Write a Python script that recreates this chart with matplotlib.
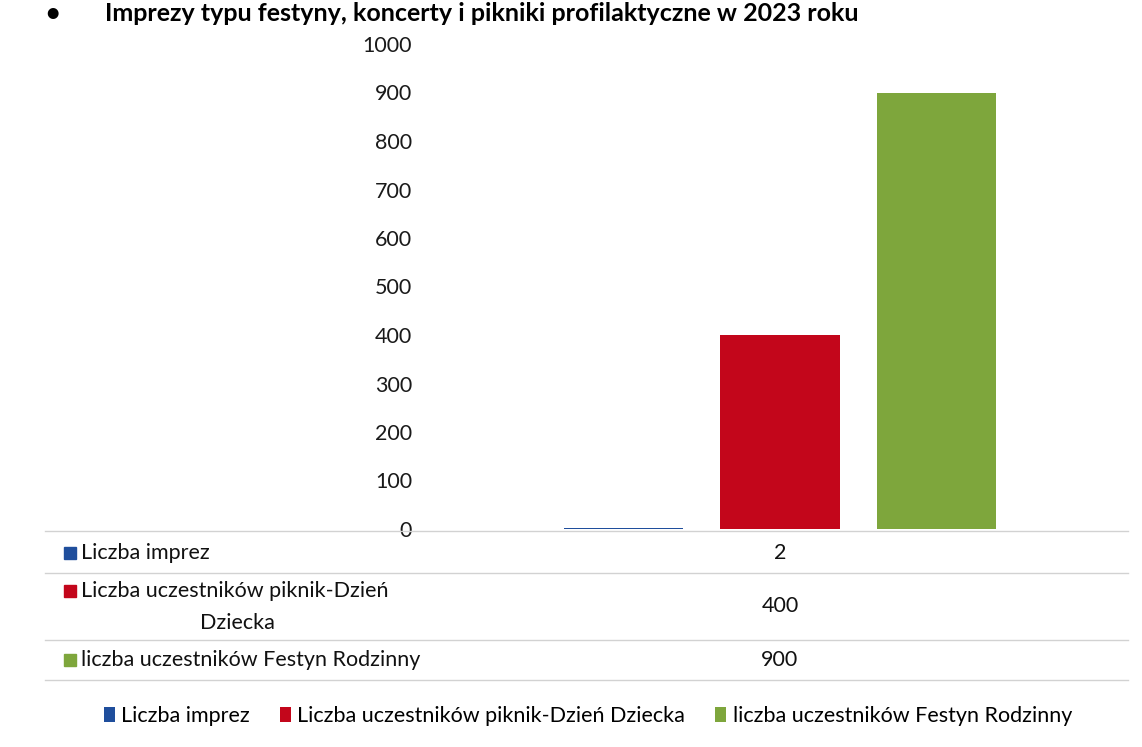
import matplotlib.pyplot as plt
from matplotlib.patches import Patch
from matplotlib.lines import Line2D

plt.rcParams["font.family"] = ["Lato", "DejaVu Sans"]

title = "Imprezy typu festyny, koncerty i pikniki profilaktyczne w 2023 roku"
series_names = ["Liczba imprez",
                "Liczba uczestników piknik-Dzień Dziecka",
                "liczba uczestników Festyn Rodzinny"]
table_labels = ["Liczba imprez",
                "Liczba uczestników piknik-Dzień\nDziecka",
                "liczba uczestników Festyn Rodzinny"]
values = [2, 400, 900]
colors = ["#1f4e9c", "#c3061b", "#7ea63c"]
y_ticks = [0, 100, 200, 300, 400, 500, 600, 700, 800, 900, 1000]

W, H = 1142, 747
FS = 15.5
fig = plt.figure(figsize=(W / 100, H / 100), dpi=100)

def fx(px):
    return px / W

def fy(py):
    return 1 - py / H

# plot area
ax = fig.add_axes([fx(440), fy(529), fx(1120 - 440), (529 - 44) / H])
offsets = [-0.23, 0.0, 0.23]
for off, v, c in zip(offsets, values, colors):
    ax.bar(off, v, width=0.176, color=c)
ax.set_xlim(-0.5, 0.5)
ax.set_ylim(0, 1000)
ax.set_yticks(y_ticks)
ax.set_yticklabels([str(t) for t in y_ticks], fontsize=FS, color="#1a1a1a")
ax.tick_params(axis="y", length=0, pad=20)
ax.set_xticks([])
for s in ["top", "right", "left", "bottom"]:
    ax.spines[s].set_visible(False)

# title
fig.text(fx(45), fy(21), "•", fontsize=18, fontweight="bold", va="baseline")
fig.text(fx(105), fy(21), title, fontsize=18, fontweight="bold", va="baseline")

# data table
for ly in [531, 573, 640, 680]:
    fig.add_artist(Line2D([fx(45), fx(1128)], [fy(ly), fy(ly)],
                          color="#d2d2d2", linewidth=1.0))

row_y = [553, 606, 660]
first_line_y = [553, 591, 660]
for i, (lab, v, c) in enumerate(zip(table_labels, values, colors)):
    fig.patches.append(plt.Rectangle((fx(64), fy(first_line_y[i]) - 6 / H), 12 / W, 12 / H,
                                     transform=fig.transFigure, color=c))
    lines = lab.split("\n")
    fig.text(fx(81), fy(first_line_y[i]), lines[0], fontsize=FS, va="center", color="#111111")
    if len(lines) > 1:
        fig.text(fx(237), fy(first_line_y[i] + 32), lines[1], fontsize=FS,
                 va="center", ha="center", color="#111111")
    fig.text(fx(780), fy(row_y[i]), str(v), fontsize=FS, va="center", ha="center", color="#111111")

# legend
handles = [Patch(facecolor=c, edgecolor="none") for c in colors]
fig.legend(handles, series_names, loc="center", bbox_to_anchor=(fx(588), fy(716)),
           ncol=3, frameon=False, fontsize=FS, handlelength=0.5, handleheight=0.7,
           handletextpad=0.3, columnspacing=1.4)

fig.savefig("out.png", dpi=100)
